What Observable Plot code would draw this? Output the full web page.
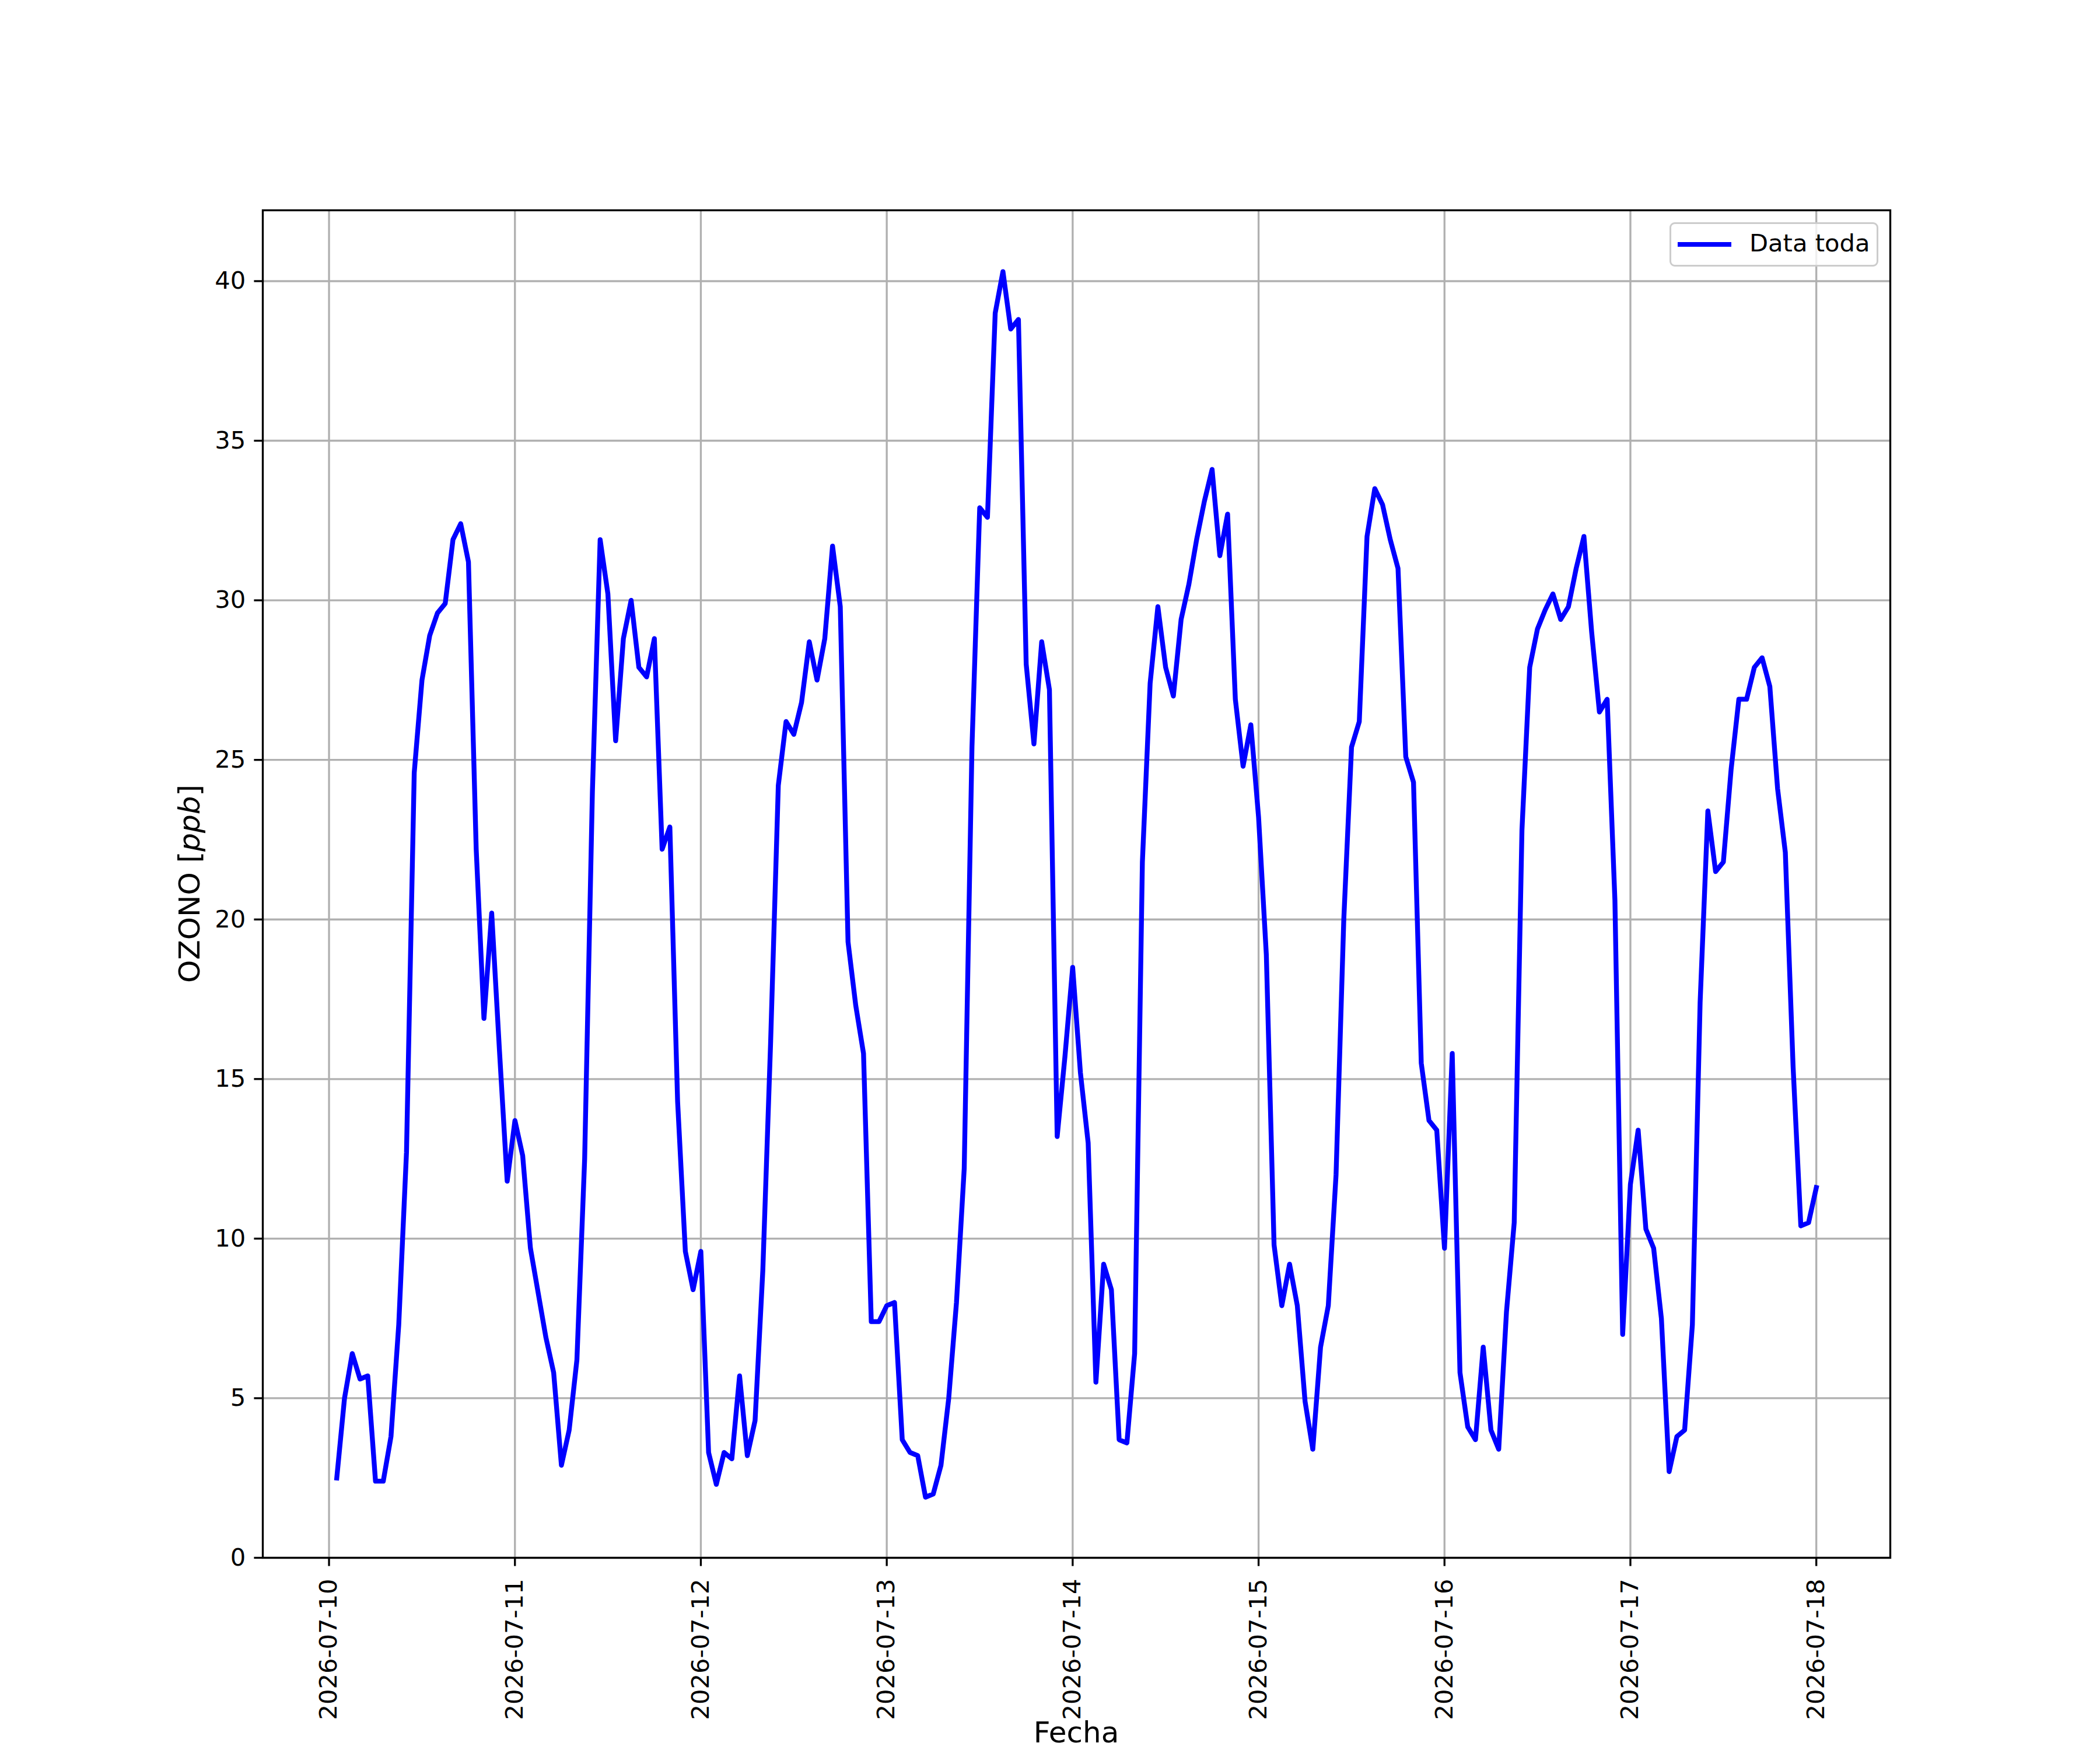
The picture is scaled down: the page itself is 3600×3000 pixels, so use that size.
<!DOCTYPE html>
<html>
<head>
<meta charset="utf-8">
<script src="https://cdn.jsdelivr.net/npm/d3@7"></script>
<script src="https://cdn.jsdelivr.net/npm/@observablehq/plot@0.6"></script>
<style>
  html, body { margin: 0; padding: 0; background: white; }
  #wrap { position: relative; width: 3600px; height: 3000px; overflow: hidden; font-family: "DejaVu Sans", sans-serif; }
  #legend { position: absolute; left: 2862px; top: 381px; width: 352px; height: 70px;
            border: 3.3px solid #cccccc; border-radius: 9px; background: rgba(255,255,255,0.8); box-sizing: content-box; }
  #legend .sw { position: absolute; left: 11px; top: 31px; width: 92px; height: 8.3px; background: blue; }
  #legend .lb { position: absolute; left: 134px; top: 8px; font-size: 41.67px; line-height: 50px; color: black; white-space: nowrap; }
  #ylab { position: absolute; left: 325px; top: 1515px; transform: translate(-50%, -50%) rotate(-90deg);
          font-size: 50px; line-height: 50px; white-space: nowrap; color: black; }
  #xlab { position: absolute; left: 1845px; top: 2950px; transform: translateX(-50%);
          font-size: 50px; line-height: 40px; white-space: nowrap; color: black; }
</style>
</head>
<body>
<div id="wrap">
  <div id="chart"></div>
  <div id="legend"><div class="sw"></div><div class="lb">Data toda</div></div>
  <div id="ylab">OZONO [<i>ppb</i>]</div>
  <div id="xlab">Fecha</div>
</div>
<script>
// Hourly ozone values (ppb)
const day10 = [2.5, 5.0, 6.4, 5.6, 5.7, 2.4, 2.4, 3.8, 7.3, 12.7, 24.6, 27.5, 28.9, 29.6, 29.9, 31.9, 32.4, 31.2, 22.2, 16.9, 20.2, 15.9, 11.8]; // 01:00-23:00
const day11 = [13.7, 12.6, 9.7, 8.3, 6.9, 5.8, 2.9, 4.0, 6.2, 12.5, 24.0, 31.9, 30.2, 25.6, 28.8, 30.0, 27.9, 27.6, 28.8, 22.2, 22.9, 14.3, 9.6, 8.4];
const day12 = [9.6, 3.3, 2.3, 3.3, 3.1, 5.7, 3.2, 4.3, 9.0, 16.1, 24.2, 26.2, 25.8, 26.8, 28.7, 27.5, 28.8, 31.7, 29.8, 19.3, 17.3, 15.8, 7.4, 7.4];
const day13 = [7.9, 8.0, 3.7, 3.3, 3.2, 1.9, 2.0, 2.9, 5.0, 8.0, 12.2, 25.4, 32.9, 32.6, 39.0, 40.3, 38.5, 38.8, 28.0, 25.5, 28.7, 27.2, 13.2, 15.7];
const day14 = [18.5, 15.2, 13.0, 5.5, 9.2, 8.4, 3.7, 3.6, 6.4, 21.8, 27.4, 29.8, 27.9, 27.0, 29.4, 30.5, 31.9, 33.1, 34.1, 31.4, 32.7, 26.9, 24.8, 26.1];
const day15 = [23.2, 18.9, 9.8, 7.9, 9.2, 7.9, 4.9, 3.4, 6.6, 7.9, 12.0, 20.0, 25.4, 26.2, 32.0, 33.5, 33.0, 31.9, 31.0, 25.1, 24.3, 15.5, 13.7, 13.4];
const day16 = [9.7, 15.8, 5.8, 4.1, 3.7, 6.6, 4.0, 3.4, 7.7, 10.5, 22.8, 27.9, 29.1, 29.7, 30.2, 29.4, 29.8, 31.0, 32.0, 29.0, 26.5, 26.9, 20.6, 7.0];
const day17 = [11.7, 13.4, 10.3, 9.7, 7.5, 2.7, 3.8, 4.0, 7.3, 17.4, 23.4, 21.5, 21.8, 24.7, 26.9, 26.9, 27.9, 28.2, 27.3, 24.1, 22.1, 15.4, 10.4, 10.5];
const day18 = [11.6]; // 00:00

const startTime = new Date(Date.UTC(2026, 6, 10, 1)); // first sample 2026-07-10 01:00
const xTickDays = ["2026-07-10","2026-07-11","2026-07-12","2026-07-13","2026-07-14","2026-07-15","2026-07-16","2026-07-17","2026-07-18"];
const yTicks = [0, 5, 10, 15, 20, 25, 30, 35, 40];
const seriesName = "Data toda";

const values = [].concat(day10, day11, day12, day13, day14, day15, day16, day17, day18);
const data = values.map((v, i) => ({t: new Date(+startTime + i * 3600e3), v}));

const tMin = data[0].t, tMax = data[data.length - 1].t;
const pad = 0.05 * (tMax - tMin);
const vMax = d3.max(values), vMin = d3.min(values);
const days = xTickDays.map(s => new Date(s + "T00:00:00Z"));

const SW = 3.33;
const chart = Plot.plot({
  width: 3600,
  height: 3000,
  marginLeft: 450,
  marginRight: 360,
  marginTop: 360,
  marginBottom: 330,
  style: {fontFamily: "DejaVu Sans, sans-serif", fontSize: "41.67px", background: "white", color: "black"},
  x: {type: "utc", domain: [new Date(+tMin - pad), new Date(+tMax + pad)]},
  y: {domain: [0, vMax + 0.05 * (vMax - vMin)]},
  marks: [
    Plot.gridX(days, {stroke: "#b0b0b0", strokeOpacity: 1, strokeWidth: SW}),
    Plot.gridY(yTicks, {stroke: "#b0b0b0", strokeOpacity: 1, strokeWidth: SW}),
    Plot.line(data, {x: "t", y: "v", stroke: "blue", strokeWidth: 8.33, strokeLinejoin: "round", strokeLinecap: "square"}),
    Plot.frame({stroke: "black", strokeWidth: SW}),
    Plot.axisY({ticks: yTicks, tickSize: 14.6, tickPadding: 14.6, label: null, strokeWidth: SW, tickFormat: d => String(d)}),
    Plot.axisX({ticks: days, tickSize: 14.6, label: null, strokeWidth: SW, tickFormat: () => ""}),
    Plot.text(days, {x: d => d, text: d => d3.utcFormat("%Y-%m-%d")(d), frameAnchor: "bottom", dy: 36,
      rotate: -90, textAnchor: "end", lineAnchor: "middle", fill: "black"})
  ]
});
document.getElementById("chart").appendChild(chart);
</script>
</body>
</html>
